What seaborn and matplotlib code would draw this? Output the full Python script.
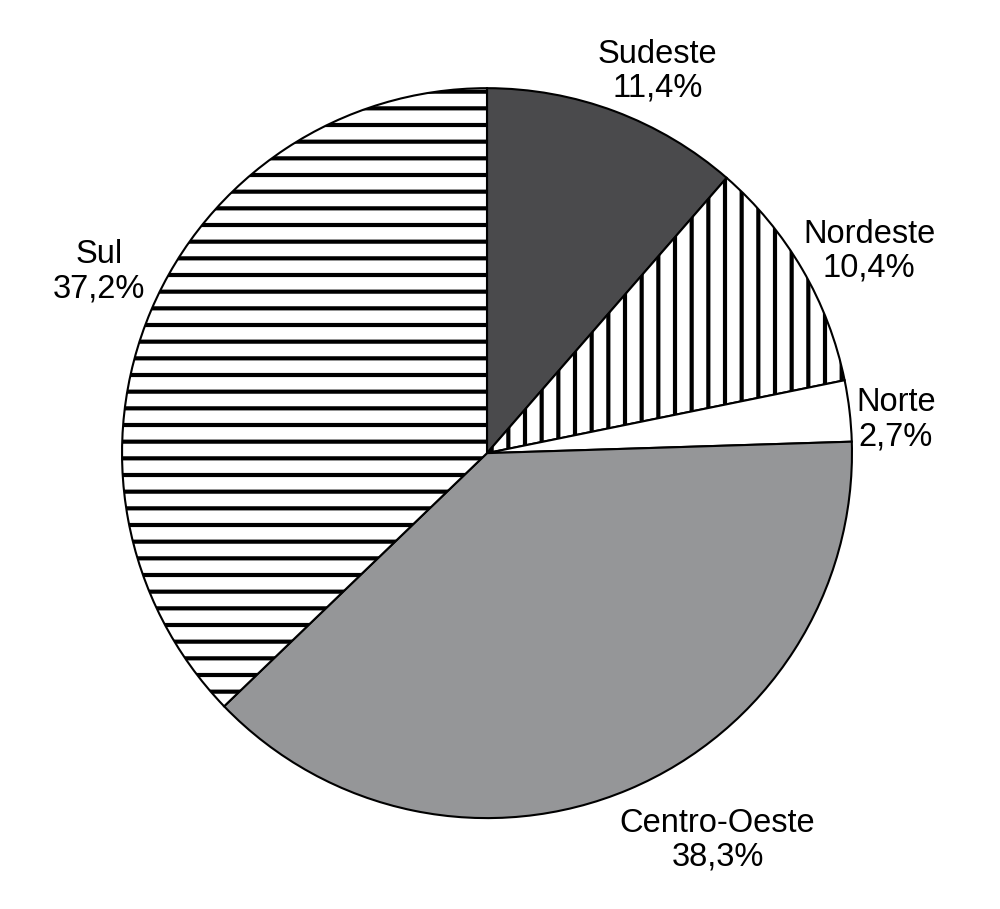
import numpy as np
import matplotlib
matplotlib.use("Agg")
import matplotlib.pyplot as plt
import seaborn as sns

regions = ["Sudeste", "Nordeste", "Norte", "Centro-Oeste", "Sul"]
shares = [11.4, 10.4, 2.7, 38.3, 37.2]
label_dist = [1.146, 1.184, 1.124, 1.235, 1.174]
label_angle_offset = [-3.5, -2.4, -2.0, 7.9, -2.0]

sns.set_theme(style="white")
plt.rcParams['font.family'] = ['Liberation Sans', 'DejaVu Sans']
plt.rcParams['hatch.linewidth'] = 3.0

fig = plt.figure(figsize=(10, 9.09), dpi=100)
ax = fig.add_axes([0.122, 0.1, 0.73, 0.803])
colors = ["#4a4a4c", "white", "white", "#959698", "white"]
hatches = [None, "|", None, None, "-"]
wedges, _ = ax.pie(shares, colors=colors, startangle=90, counterclock=False,
                   wedgeprops=dict(edgecolor="black", linewidth=1.5))
for w, h in zip(wedges, hatches):
    if h:
        w.set_hatch(h)
for w, name, v, d, off in zip(wedges, regions, shares, label_dist, label_angle_offset):
    ang = np.deg2rad((w.theta1 + w.theta2) / 2 + off)
    x, y = d * np.cos(ang), d * np.sin(ang)
    ax.text(x, y, f"{name}\n{v:.1f}%".replace(".", ","), ha="center", va="center",
            fontsize=23.5, linespacing=1.12, color="black")
ax.set_xlim(-1, 1)
ax.set_ylim(-1, 1)
ax.set_aspect("equal")
ax.axis("off")
fig.savefig("out.png", dpi=100)
